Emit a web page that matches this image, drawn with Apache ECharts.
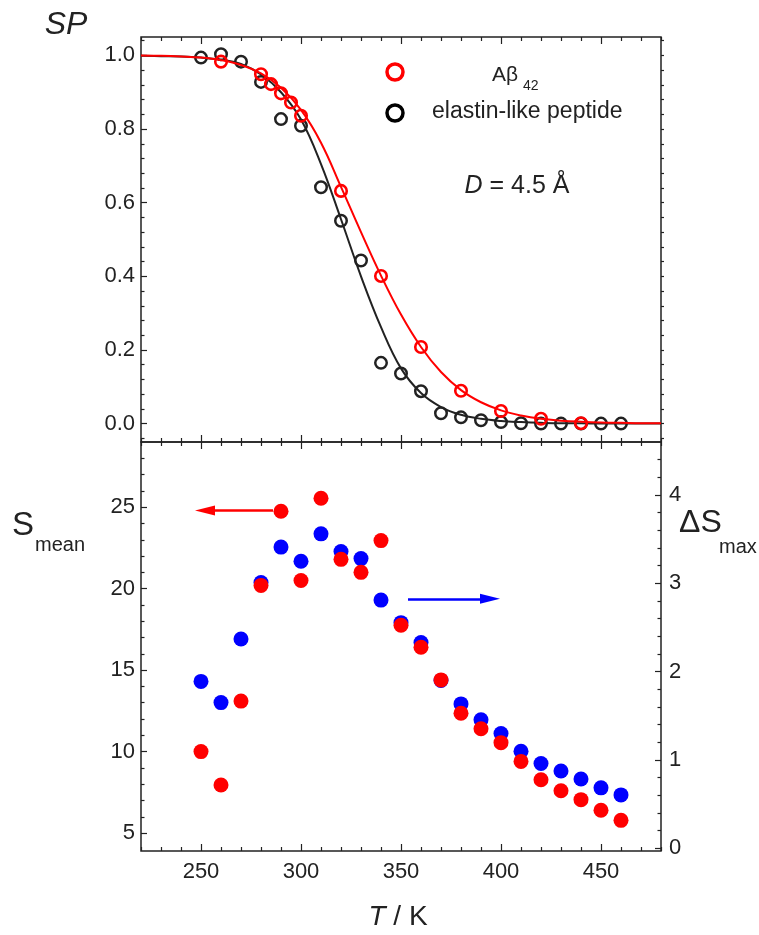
<!DOCTYPE html>
<html>
<head>
<meta charset="utf-8">
<script src="https://cdn.jsdelivr.net/npm/echarts@6/dist/echarts.min.js"></script>
<style>
  html, body { margin: 0; padding: 0; background: #fff; }
  #chart { width: 759px; height: 935px; }
</style>
</head>
<body>
<div id="chart"></div>
<script>
// ---- data ----
// top panel: fitted curves (SP vs T)
const tFit = [220, 230, 240, 250, 260, 270, 280, 290, 300, 310, 320, 330, 340, 350, 360, 370, 380, 390, 400, 410, 420, 430, 440, 450, 460, 470, 480];
const fitElastin = [0.999, 0.998, 0.997, 0.994, 0.988, 0.977, 0.948, 0.900, 0.826, 0.705, 0.555, 0.400, 0.262, 0.150, 0.083, 0.045, 0.024, 0.013, 0.007, 0.004, 0.002, 0.001, 0.001, 0.000, 0.000, 0.000, 0.000];
const fitAbeta = [1.000, 0.999, 0.997, 0.994, 0.987, 0.974, 0.951, 0.912, 0.852, 0.763, 0.643, 0.520, 0.402, 0.296, 0.208, 0.140, 0.091, 0.058, 0.036, 0.022, 0.013, 0.008, 0.005, 0.003, 0.002, 0.001, 0.001];

// top panel: measured points
const tAbeta = [260, 280, 285, 290, 295, 300, 320, 340, 360, 380, 400, 420, 440];
const spAbeta = [0.983, 0.949, 0.922, 0.897, 0.872, 0.836, 0.632, 0.401, 0.208, 0.089, 0.034, 0.013, 0.001];
const tElastin = [250, 260, 270, 280, 290, 300, 310, 320, 330, 340, 350, 360, 370, 380, 390, 400, 410, 420, 430, 440, 450, 460];
const spElastin = [0.994, 1.003, 0.983, 0.928, 0.827, 0.809, 0.642, 0.551, 0.443, 0.165, 0.136, 0.088, 0.028, 0.017, 0.009, 0.004, 0.001, 0, 0, 0, 0, 0];

// bottom panel
const tLow = [250, 260, 270, 280, 290, 300, 310, 320, 330, 340, 350, 360, 370, 380, 390, 400, 410, 420, 430, 440, 450, 460];
const sMean = [10.0, 7.95, 13.1, 20.2, 24.75, 20.5, 25.55, 21.8, 21.0, 22.95, 17.75, 16.4, 14.4, 12.35, 11.4, 10.55, 9.4, 8.27, 7.6, 7.05, 6.4, 5.78];
const dSmax = [1.89, 1.65, 2.37, 3.01, 3.41, 3.25, 3.56, 3.36, 3.28, 2.81, 2.555, 2.33, 1.90, 1.635, 1.455, 1.30, 1.10, 0.96, 0.875, 0.785, 0.685, 0.605];

// ticks
const xMajor = [250, 300, 350, 400, 450];
const xMinor = [220, 230, 240, 260, 270, 280, 290, 310, 320, 330, 340, 360, 370, 380, 390, 410, 420, 430, 440, 460, 470, 480];
const spMajor = [0, 0.2, 0.4, 0.6, 0.8, 1.0];
const spMinor = [-0.04, 0.04, 0.08, 0.12, 0.16, 0.24, 0.28, 0.32, 0.36, 0.44, 0.48, 0.52, 0.56, 0.64, 0.68, 0.72, 0.76, 0.84, 0.88, 0.92, 0.96, 1.04];
const sMajor = [5, 10, 15, 20, 25];
const sMinor = [6, 7, 8, 9, 11, 12, 13, 14, 16, 17, 18, 19, 21, 22, 23, 24, 26, 27, 28];
const dMajor = [0, 1, 2, 3, 4];
const dMinor = [0.2, 0.4, 0.6, 0.8, 1.2, 1.4, 1.6, 1.8, 2.2, 2.4, 2.6, 2.8, 3.2, 3.4, 3.6, 3.8, 4.2, 4.4];

const FONT = '"Liberation Sans", Arial, sans-serif';
const INK = '#222';
const RED = '#ff0000';
const BLUE = '#0000ff';

function zip(xs, ys) {
  return xs.map(function (x, i) { return [x, ys[i]]; });
}

// one axis that only draws ticks (and maybe labels)
function tickAxis(base, values, len, labels, extra) {
  const ax = Object.assign({
    type: 'value',
    axisLine: { show: false, onZero: false },
    splitLine: { show: false },
    axisTick: { show: true, inside: true, length: len, customValues: values,
      lineStyle: { color: INK, width: 1.2 } },
    axisLabel: labels ? Object.assign({ show: true, customValues: values,
      fontSize: 22, color: INK, fontFamily: FONT }, labels) : { show: false }
  }, base);
  if (extra) Object.assign(ax.axisTick, extra);
  return ax;
}

const xBase = { min: 220, max: 480 };
const xAxes = [
  tickAxis(Object.assign({ gridIndex: 0, position: 'bottom' }, xBase), xMajor, 7),
  tickAxis(Object.assign({ gridIndex: 0, position: 'bottom' }, xBase), xMinor, 4),
  tickAxis(Object.assign({ gridIndex: 0, position: 'top' }, xBase), xMajor, 7),
  tickAxis(Object.assign({ gridIndex: 0, position: 'top' }, xBase), xMinor, 4),
  tickAxis(Object.assign({ gridIndex: 1, position: 'bottom' }, xBase), xMajor, 7, { margin: 10 }),
  tickAxis(Object.assign({ gridIndex: 1, position: 'bottom' }, xBase), xMinor, 4),
  tickAxis(Object.assign({ gridIndex: 1, position: 'top' }, xBase), xMajor, 7),
  tickAxis(Object.assign({ gridIndex: 1, position: 'top' }, xBase), xMinor, 4)
];

const yAxes = [
  // 0,1,2: top panel
  tickAxis({ gridIndex: 0, position: 'left', min: -0.05, max: 1.05 }, spMajor, 6,
    { margin: 6, formatter: function (v) { return v.toFixed(1); } }),
  tickAxis({ gridIndex: 0, position: 'left', min: -0.05, max: 1.05 }, spMinor, 3.5),
  tickAxis({ gridIndex: 0, position: 'right', min: -0.05, max: 1.05 },
    spMajor.concat(spMinor), 3, null, { inside: false }),
  // 3,4: bottom left (S mean)
  tickAxis({ gridIndex: 1, position: 'left', min: 3.9, max: 29 }, sMajor, 6, { margin: 6 }),
  tickAxis({ gridIndex: 1, position: 'left', min: 3.9, max: 29 }, sMinor, 3.5),
  // 5,6: bottom right (delta S max)
  tickAxis({ gridIndex: 1, position: 'right', min: -0.03, max: 4.6 }, dMajor, 6, { margin: 8 }),
  tickAxis({ gridIndex: 1, position: 'right', min: -0.03, max: 4.6 }, dMinor, 3.5)
];

const chart = echarts.init(document.getElementById('chart'));

chart.setOption({
  animation: false,
  backgroundColor: '#fff',
  grid: [
    { left: 141, right: 98, top: 37, height: 405, show: true, borderColor: INK, borderWidth: 1.5,
      backgroundColor: 'transparent', containLabel: false, outerBoundsMode: 'none' },
    { left: 141, right: 98, top: 442, height: 409, show: true, borderColor: INK, borderWidth: 1.5,
      backgroundColor: 'transparent', containLabel: false, outerBoundsMode: 'none' }
  ],
  xAxis: xAxes,
  yAxis: yAxes,
  series: [
    {
      name: 'elastin fit', type: 'line', xAxisIndex: 0, yAxisIndex: 0,
      data: zip(tFit, fitElastin), smooth: 0.4, showSymbol: false,
      lineStyle: { color: INK, width: 2 }, z: 2
    },
    {
      name: 'elastin-like peptide', type: 'scatter', xAxisIndex: 0, yAxisIndex: 0,
      data: zip(tElastin, spElastin), symbol: 'circle', symbolSize: 11.5,
      itemStyle: { color: 'transparent', borderColor: INK, borderWidth: 2.5, opacity: 1 }, z: 3
    },
    {
      name: 'Abeta fit', type: 'line', xAxisIndex: 0, yAxisIndex: 0,
      data: zip(tFit, fitAbeta), smooth: 0.4, showSymbol: false,
      lineStyle: { color: RED, width: 2 }, z: 4
    },
    {
      name: 'Aβ42', type: 'scatter', xAxisIndex: 0, yAxisIndex: 0,
      data: zip(tAbeta, spAbeta), symbol: 'circle', symbolSize: 11.5,
      itemStyle: { color: 'transparent', borderColor: RED, borderWidth: 2.6, opacity: 1 }, z: 5
    },
    {
      name: 'ΔSmax', type: 'scatter', xAxisIndex: 4, yAxisIndex: 5,
      data: zip(tLow, dSmax), symbol: 'circle', symbolSize: 15,
      itemStyle: { color: BLUE, opacity: 1 }, z: 3,
      markLine: {
        silent: true, symbol: ['none', 'triangle'],
        label: { show: false },
        lineStyle: { color: BLUE, width: 2.5, type: 'solid', opacity: 1 },
        data: [[{ coord: [353.5, 2.825] }, { coord: [394.5, 2.825], symbolSize: [10, 20] }]]
      }
    },
    {
      name: 'Smean', type: 'scatter', xAxisIndex: 4, yAxisIndex: 3,
      data: zip(tLow, sMean), symbol: 'circle', symbolSize: 15,
      itemStyle: { color: RED, opacity: 1 }, z: 4,
      markLine: {
        silent: true, symbol: ['none', 'triangle'],
        label: { show: false },
        lineStyle: { color: RED, width: 2.5, type: 'solid', opacity: 1 },
        data: [[{ coord: [286, 24.8] }, { coord: [252, 24.8], symbolSize: [10, 20] }]]
      }
    }
  ],
  graphic: [
    // axis titles
    { type: 'text', style: { text: 'SP', x: 66, y: 25, align: 'center', verticalAlign: 'middle',
      fontSize: 32, fontStyle: 'italic', fontFamily: FONT, fill: INK } },
    { type: 'text', style: { text: 'S', x: 23, y: 526, align: 'center', verticalAlign: 'middle',
      fontSize: 33, fontFamily: FONT, fill: INK } },
    { type: 'text', style: { text: 'mean', x: 35, y: 545, align: 'left', verticalAlign: 'middle',
      fontSize: 20, fontFamily: FONT, fill: INK } },
    { type: 'text', style: { text: 'ΔS', x: 679, y: 523, align: 'left', verticalAlign: 'middle',
      fontSize: 32, fontFamily: FONT, fill: INK } },
    { type: 'text', style: { text: 'max', x: 719, y: 547, align: 'left', verticalAlign: 'middle',
      fontSize: 20, fontFamily: FONT, fill: INK } },
    { type: 'text', style: { text: '{i|T}{n| / K}', x: 398, y: 917, align: 'center', verticalAlign: 'middle',
      rich: {
        i: { fontSize: 28, fontStyle: 'italic', fontFamily: FONT, fill: INK },
        n: { fontSize: 28, fontFamily: FONT, fill: INK }
      } } },
    // legend
    { type: 'circle', shape: { cx: 395, cy: 72, r: 8 },
      style: { fill: 'none', stroke: RED, lineWidth: 3.5 } },
    { type: 'circle', shape: { cx: 395, cy: 113, r: 8 },
      style: { fill: 'none', stroke: '#000', lineWidth: 3.5 } },
    { type: 'text', style: { text: 'Aβ', x: 492, y: 75, align: 'left', verticalAlign: 'middle',
      fontSize: 21, fontFamily: FONT, fill: INK } },
    { type: 'text', style: { text: '42', x: 523, y: 86, align: 'left', verticalAlign: 'middle',
      fontSize: 14, fontFamily: FONT, fill: INK } },
    { type: 'text', style: { text: 'elastin-like peptide', x: 432, y: 112, align: 'left', verticalAlign: 'middle',
      fontSize: 23, fontFamily: FONT, fill: INK } },
    // annotation
    { type: 'text', style: { text: '{i|D}{n| = 4.5 Å}', x: 517, y: 186, align: 'center', verticalAlign: 'middle',
      rich: {
        i: { fontSize: 25, fontStyle: 'italic', fontFamily: FONT, fill: INK },
        n: { fontSize: 25, fontFamily: FONT, fill: INK }
      } } }
  ]
});
</script>
</body>
</html>
